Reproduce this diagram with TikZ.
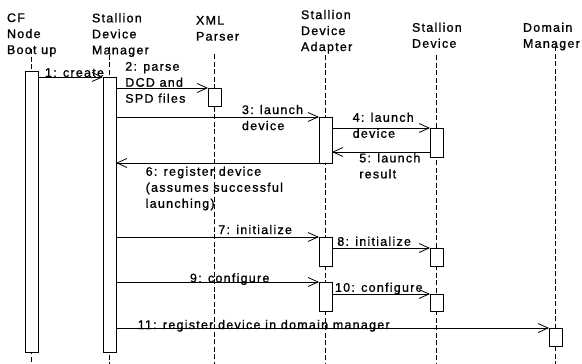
\documentclass[tikz,border=0pt]{standalone}
\usepackage{fontspec}
\setmainfont{Liberation Sans}[LetterSpace=10,FakeBold=1]
\usetikzlibrary{arrows.meta}
\begin{document}
\begin{tikzpicture}[x=1pt,y=-1pt,
  every node/.style={font=\fontsize{12.5}{16}\selectfont, inner sep=0pt, outer sep=0pt},
  txt/.style={anchor=north west, align=left},
  act/.style={draw, fill=white, line width=0.9pt, minimum width=13pt, inner sep=0pt},
  life/.style={line width=0.8pt, dash pattern=on 5pt off 2.5pt},
  msg/.style={line width=0.8pt, -{Straight Barb[length=10pt,width=9pt,line width=0.8pt]}}]
\useasboundingbox[fill=white] (0,0) rectangle (582,364);

% object headers
\node[txt] (hcf)  at (7,13.3)   {CF\\Node\\Boot up};
\node[txt] (hsdm) at (92,13.3)  {Stallion\\Device\\Manager};
\node[txt] (hxml) at (196,16)   {XML\\Parser};
\node[txt] (hsda) at (301,10)   {Stallion\\Device\\Adapter};
\node[txt] (hsd)  at (412,22.7) {Stallion\\Device};
\node[txt] (hdm)  at (523,22.7) {Domain\\Manager};

% lifeline ends
\coordinate (cfT)  at (31.5,49);  \coordinate (cfB)  at (31.5,364);
\coordinate (sdmT) at (109.5,47); \coordinate (sdmB) at (109.5,364);
\coordinate (xmlT) at (214.5,54); \coordinate (xmlB) at (214.5,364);
\coordinate (sdaT) at (325.5,55); \coordinate (sdaB) at (325.5,364);
\coordinate (sdT)  at (436.5,55); \coordinate (sdB)  at (436.5,364);
\coordinate (dmT)  at (555.5,46); \coordinate (dmB)  at (555.5,364);
\foreach \l in {cf,sdm,xml,sda,sd,dm} \draw[life] (\l T) -- (\l B);

% activation bars
\node[act, minimum height=281pt] (cf)   at (31.5,211.5) {};
\node[act, minimum height=275pt] (sdm)  at (109.5,214.5) {};
\node[act, minimum height=18pt]  (xml)  at (214.5,97) {};
\node[act, minimum height=46pt]  (sda1) at (325.5,140) {};
\node[act, minimum height=29pt]  (sda2) at (325.5,251.5) {};
\node[act, minimum height=29pt]  (sda3) at (325.5,296.5) {};
\node[act, minimum height=29pt]  (sd1)  at (436.5,142.5) {};
\node[act, minimum height=18pt]  (sd2)  at (436.5,257) {};
\node[act, minimum height=17pt]  (sd3)  at (436.5,302.5) {};
\node[act, minimum height=18pt]  (dm)   at (555.5,337) {};

% message labels
\node[txt] (l1)  at (45,68.3)    {1: create};
\node[txt] (l2)  at (125.3,62)   {2: parse\\DCD and\\SPD files};
\node[txt] (l3)  at (242,105)    {3: launch\\device};
\node[txt] (l4)  at (352.7,112.7){4: launch\\device};
\node[txt] (l5)  at (359.3,153.3){5: launch\\result};
\node[txt] (l6)  at (145.7,166.7){6: register device\\(assumes successful\\launching)};
\node[txt] (l7)  at (218.3,225)  {7: initialize};
\node[txt] (l8)  at (337.3,236.7){8: initialize};
\node[txt] (l9)  at (190,273.3)  {9: configure};
\node[txt] (l10) at (335,282.7)  {10: configure};
\node[txt] (l11) at (137.7,320)  {11: register device in domain manager};

% messages
\draw[msg] (cf.east |- sdm.north) -- (sdm.north west);
\draw[msg] (sdm.east |- xml.north) -- (xml.north west);
\draw[msg] (sdm.east |- sda1.north) -- (sda1.north west);
\draw[msg] (sda1.east |- sd1.north) -- (sd1.north west);
\coordinate (r5) at ([yshift=5pt]sd1.south west);
\draw[msg] (r5) -- (sda1.east |- r5);
\draw[msg] (sda1.south west) -- (sdm.east |- sda1.south);
\draw[msg] (sdm.east |- sda2.north) -- (sda2.north west);
\draw[msg] (sda2.east |- sd2.north) -- (sd2.north west);
\draw[msg] (sdm.east |- sda3.north) -- (sda3.north west);
\draw[msg] (sda3.east |- sd3.north) -- (sd3.north west);
\draw[msg] (sdm.east |- dm.north) -- (dm.north west);
\end{tikzpicture}
\end{document}
